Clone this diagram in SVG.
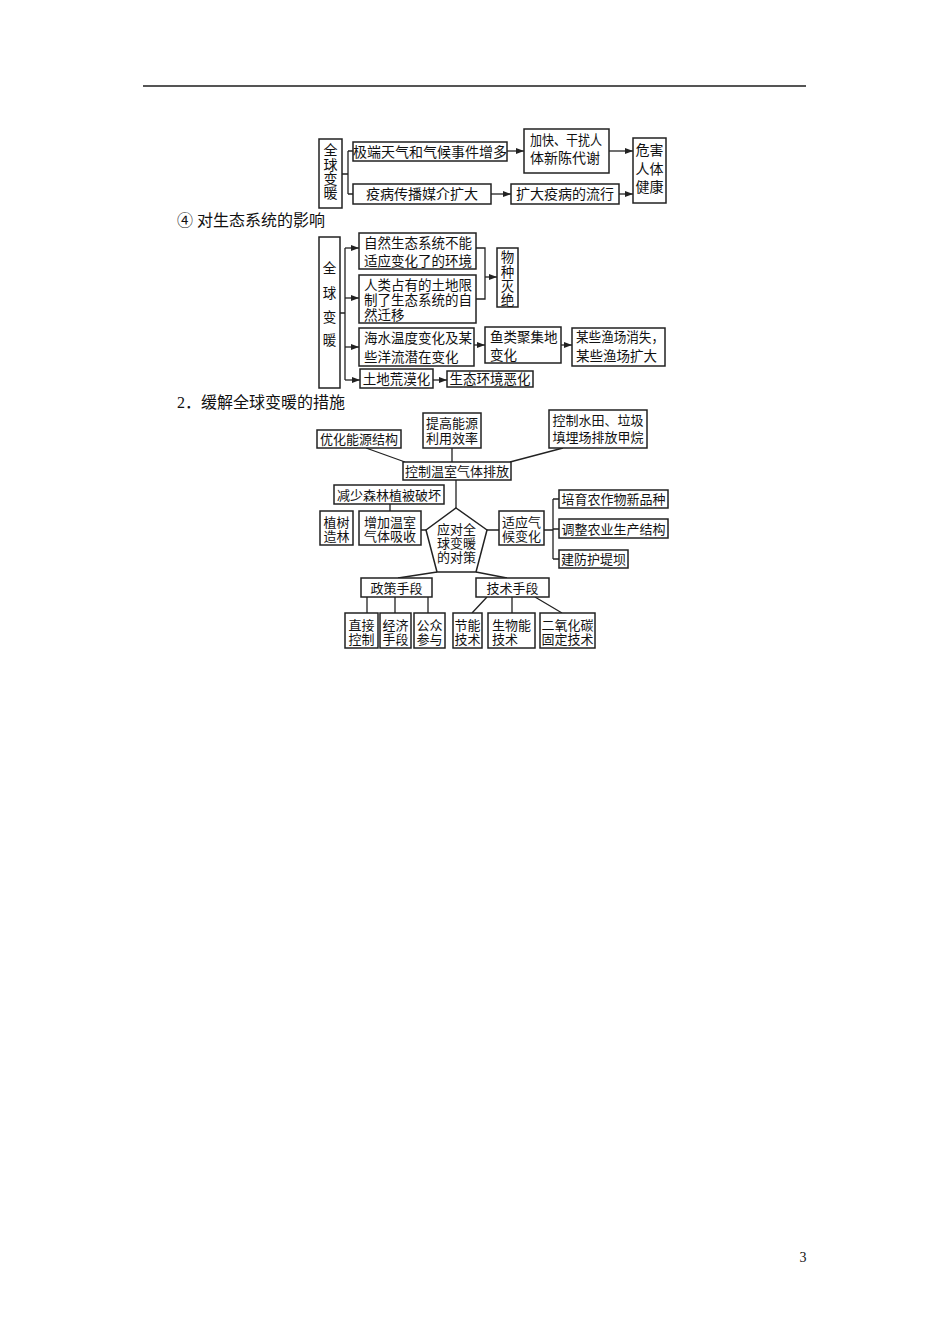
<svg xmlns="http://www.w3.org/2000/svg" width="950" height="1344" viewBox="0 0 950 1344">
<style>
text{font-family:"Liberation Serif","Noto Sans CJK SC",serif;fill:#111}
.b{fill:#fff;stroke:#222;stroke-width:1.5}
.l{fill:none;stroke:#222;stroke-width:1.3}
.a{fill:none;stroke:#222;stroke-width:1.3;marker-end:url(#ar)}
.f14{font-size:14px}
.f135{font-size:13.5px}
.f13{font-size:13px}
.h{font-size:16px}
.m{text-anchor:middle}
</style>
<defs>
<marker id="ar" viewBox="0 0 8 6" refX="8" refY="3" markerWidth="8" markerHeight="6" markerUnits="userSpaceOnUse" orient="auto">
<path d="M0,0 L8,3 L0,6 z" fill="#222"/>
</marker>
</defs>
<rect width="950" height="1344" fill="#fff"/>
<line x1="143" y1="86" x2="806" y2="86" stroke="#555" stroke-width="2"/>

<!-- Diagram 1 -->
<g id="connectors1">
<path class="l" d="M342,174 H348 M348,151 V194 M348,151 H353 M348,194 H353"/>
<path class="a" d="M507,151 H524"/>
<path class="a" d="M609,151 H633"/>
<path class="a" d="M491,194 H511"/>
<path class="a" d="M619,194 H633"/>
</g>
<g id="d1-warming"><rect class="b" x="319" y="139" width="23" height="69"/>
<text class="f14 m"><tspan x="330.5" y="155">全</tspan><tspan x="330.5" y="170">球</tspan><tspan x="330.5" y="184">变</tspan><tspan x="330.5" y="198">暖</tspan></text></g>
<g id="d1-extreme"><rect class="b" x="353" y="142" width="154" height="19"/>
<text class="f14 m" x="430" y="157">极端天气和气候事件增多</text></g>
<g id="d1-disease"><rect class="b" x="353" y="184" width="138" height="20"/>
<text class="f14 m" x="422" y="199">疫病传播媒介扩大</text></g>
<g id="d1-metab"><rect class="b" x="524" y="129" width="85" height="44"/>
<text class="f14"><tspan x="530" y="145" textLength="72" lengthAdjust="spacingAndGlyphs">加快、干扰人</tspan><tspan x="530" y="163">体新陈代谢</tspan></text></g>
<g id="d1-spread"><rect class="b" x="511" y="184" width="108" height="20"/>
<text class="f14 m" x="565" y="199">扩大疫病的流行</text></g>
<g id="d1-health"><rect class="b" x="633" y="138" width="33" height="65"/>
<text class="f14 m"><tspan x="649.5" y="155">危害</tspan><tspan x="649.5" y="173.5">人体</tspan><tspan x="649.5" y="192">健康</tspan></text></g>

<!-- Heading 4 -->
<text class="h" x="177" y="226">④ 对生态系统的影响</text>

<!-- Diagram 2 -->
<g id="connectors2">
<path class="l" d="M340,313 H345 M345,248 V380"/>
<path class="a" d="M345,248 H359"/>
<path class="a" d="M345,298 H359"/>
<path class="a" d="M345,347 H359"/>
<path class="a" d="M345,380 H360"/>
<path class="l" d="M476,248 H485 V299 H476"/>
<path class="a" d="M485,277 H497"/>
<path class="a" d="M474,345 H485"/>
<path class="a" d="M561,345 H572"/>
<path class="a" d="M433,380 H447"/>
</g>
<g id="d2-warming"><rect class="b" x="319" y="237" width="21" height="151"/>
<text class="f135 m"><tspan x="329.5" y="273">全</tspan><tspan x="329.5" y="298">球</tspan><tspan x="329.5" y="322">变</tspan><tspan x="329.5" y="345">暖</tspan></text></g>
<g id="d2-a"><rect class="b" x="359" y="233" width="117" height="36"/>
<text class="f135"><tspan x="364" y="248">自然生态系统不能</tspan><tspan x="364" y="266">适应变化了的环境</tspan></text></g>
<g id="d2-b"><rect class="b" x="359" y="275" width="117" height="48"/>
<text class="f135"><tspan x="364" y="290">人类占有的土地限</tspan><tspan x="364" y="305">制了生态系统的自</tspan><tspan x="364" y="320">然迁移</tspan></text></g>
<g id="d2-extinct"><rect class="b" x="497" y="248" width="21" height="59"/>
<text class="f135 m"><tspan x="507.5" y="262">物</tspan><tspan x="507.5" y="277">种</tspan><tspan x="507.5" y="291">灭</tspan><tspan x="507.5" y="305">绝</tspan></text></g>
<g id="d2-c"><rect class="b" x="359" y="328" width="115" height="38"/>
<text class="f135"><tspan x="364" y="343">海水温度变化及某</tspan><tspan x="364" y="362">些洋流潜在变化</tspan></text></g>
<g id="d2-d"><rect class="b" x="485" y="327" width="76" height="36"/>
<text class="f135"><tspan x="490" y="342">鱼类聚集地</tspan><tspan x="490" y="360">变化</tspan></text></g>
<g id="d2-e"><rect class="b" x="572" y="328" width="93" height="38"/>
<text class="f135"><tspan x="576" y="342" textLength="88" lengthAdjust="spacingAndGlyphs">某些渔场消失，</tspan><tspan x="576" y="361">某些渔场扩大</tspan></text></g>
<g id="d2-f"><rect class="b" x="360" y="369" width="73" height="19"/>
<text class="f135 m" x="396.5" y="383.5">土地荒漠化</text></g>
<g id="d2-g"><rect class="b" x="447" y="371" width="86" height="16"/>
<text class="f135 m" x="490" y="384">生态环境恶化</text></g>

<!-- Heading 2 -->
<text class="h" x="177" y="408">2<tspan>．缓解全球变暖的措施</tspan></text>

<!-- Diagram 3 -->
<g id="connectors3">
<path class="l" d="M366,448 L405,462 M452,448 V462 M563,448 L510,462 M456,480 V508"/>
<path class="l" d="M390,504 V511 M421,530 H426 M487,530 H499 M544,530 H553 M553,499 V559 M553,499 H559 M553,529 H559 M553,559 H559"/>
<path class="l" d="M437,572 L398,578 M476,572 L507,578"/>
<path class="l" d="M367,597 V613 M395,597 V613 M428,597 V613 M487,597 L472,613 M512,597 V613 M535,597 L562,613"/>
</g>
<g id="d3-opt"><rect class="b" x="317" y="430" width="84" height="18"/>
<text class="f13 m" x="359" y="444">优化能源结构</text></g>
<g id="d3-eff"><rect class="b" x="423" y="413" width="58" height="35"/>
<text class="f13 m"><tspan x="452" y="428">提高能源</tspan><tspan x="452" y="443">利用效率</tspan></text></g>
<g id="d3-methane"><rect class="b" x="549" y="410" width="98" height="38"/>
<text class="f13 m"><tspan x="598" y="425">控制水田、垃圾</tspan><tspan x="598" y="442">填埋场排放甲烷</tspan></text></g>
<g id="d3-ctrl"><rect class="b" x="403" y="462" width="108" height="18"/>
<text class="f13 m" x="457" y="476">控制温室气体排放</text></g>
<g id="d3-forest"><rect class="b" x="334" y="485" width="110" height="19"/>
<text class="f13 m" x="389" y="499.5">减少森林植被破坏</text></g>
<g id="d3-plant"><rect class="b" x="320" y="511" width="33" height="34"/>
<text class="f13 m"><tspan x="336.5" y="527">植树</tspan><tspan x="336.5" y="541">造林</tspan></text></g>
<g id="d3-absorb"><rect class="b" x="359" y="511" width="62" height="34"/>
<text class="f13 m"><tspan x="390" y="527">增加温室</tspan><tspan x="390" y="541">气体吸收</tspan></text></g>
<g id="d3-center"><polygon class="b" points="456,508 487,530 476,572 437,572 426,530"/>
<text class="f13 m"><tspan x="456.5" y="534">应对全</tspan><tspan x="456.5" y="548">球变暖</tspan><tspan x="456.5" y="562">的对策</tspan></text></g>
<g id="d3-adapt"><rect class="b" x="499" y="511" width="45" height="34"/>
<text class="f13 m"><tspan x="521.5" y="527">适应气</tspan><tspan x="521.5" y="541">候变化</tspan></text></g>
<g id="d3-crop"><rect class="b" x="559" y="490" width="109" height="18"/>
<text class="f13 m" x="613.5" y="504">培育农作物新品种</text></g>
<g id="d3-agri"><rect class="b" x="559" y="519" width="109" height="19"/>
<text class="f13 m" x="613.5" y="533.5">调整农业生产结构</text></g>
<g id="d3-dam"><rect class="b" x="559" y="550" width="69" height="18"/>
<text class="f13 m" x="593.5" y="564">建防护堤坝</text></g>
<g id="d3-policy"><rect class="b" x="361" y="578" width="71" height="19"/>
<text class="f13 m" x="396.5" y="592.5">政策手段</text></g>
<g id="d3-tech"><rect class="b" x="476" y="578" width="73" height="19"/>
<text class="f13 m" x="512.5" y="592.5">技术手段</text></g>
<g id="d3-direct"><rect class="b" x="345" y="613" width="33" height="35"/>
<text class="f13 m"><tspan x="361.5" y="630">直接</tspan><tspan x="361.5" y="644">控制</tspan></text></g>
<g id="d3-econ"><rect class="b" x="380" y="613" width="31" height="35"/>
<text class="f13 m"><tspan x="395.5" y="630">经济</tspan><tspan x="395.5" y="644">手段</tspan></text></g>
<g id="d3-public"><rect class="b" x="414" y="613" width="31" height="35"/>
<text class="f13 m"><tspan x="429.5" y="630">公众</tspan><tspan x="429.5" y="644">参与</tspan></text></g>
<g id="d3-save"><rect class="b" x="453" y="613" width="29" height="35"/>
<text class="f13 m"><tspan x="467.5" y="630">节能</tspan><tspan x="467.5" y="644">技术</tspan></text></g>
<g id="d3-bio"><rect class="b" x="488" y="613" width="47" height="35"/>
<text class="f13"><tspan x="492" y="630">生物能</tspan><tspan x="492" y="644">技术</tspan></text></g>
<g id="d3-co2"><rect class="b" x="540" y="613" width="55" height="35"/>
<text class="f13 m"><tspan x="567.5" y="630">二氧化碳</tspan><tspan x="567.5" y="644">固定技术</tspan></text></g>

<text x="803" y="1262" font-size="14" text-anchor="middle">3</text>
</svg>
